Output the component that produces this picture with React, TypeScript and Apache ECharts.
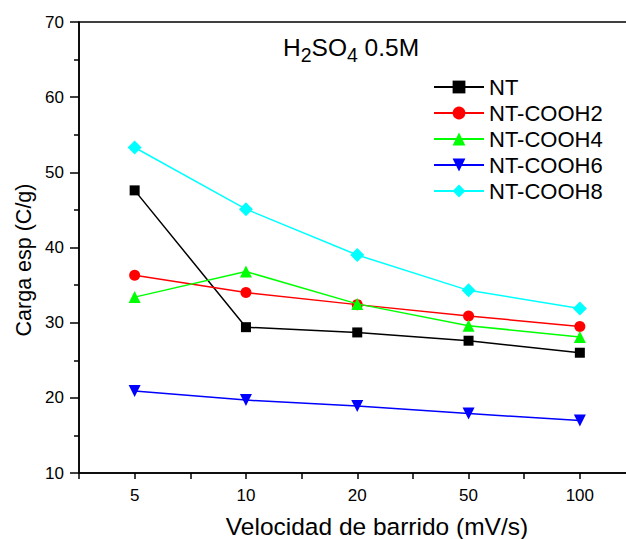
import React, { useEffect, useRef } from "react";
import * as echarts from "echarts";

const categories = ["5", "10", "20", "50", "100"];
const seriesNames = ["NT", "NT-COOH2", "NT-COOH4", "NT-COOH6", "NT-COOH8"];
const ntValues = [47.6, 29.4, 28.7, 27.6, 26.0];
const cooh2Values = [36.3, 34.0, 32.4, 30.9, 29.5];
const cooh4Values = [33.4, 36.8, 32.5, 29.6, 28.1];
const cooh6Values = [20.9, 19.7, 18.9, 17.9, 17.0];
const cooh8Values = [53.3, 45.1, 39.0, 34.3, 31.9];
const yTicks = [10, 20, 30, 40, 50, 60, 70];

const colors = ["#000000", "#ff0000", "#00ff00", "#0000ff", "#00ffff"];
const symbols = ["rect", "circle", "triangle", "triangle", "diamond"];
const symbolRotates = [0, 0, 0, 180, 0];
const symbolSizes = [10, 11, 12, 12, 14];

const FONT = "'Liberation Sans', Arial, Helvetica, sans-serif";

// title pieces: [text, isSubscript]
const titlePieces: [string, boolean][] = [
  ["H", false],
  ["2", true],
  ["SO", false],
  ["4", true],
  [" 0.5M", false],
];

function measure(text: string, size: number): number {
  const c = document.createElement("canvas").getContext("2d");
  if (!c) return text.length * size * 0.55;
  c.font = `${size}px ${FONT}`;
  return c.measureText(text).width;
}

export default function App() {
  const ref = useRef<HTMLDivElement>(null);
  useEffect(() => {
    document.body.style.margin = "0";
    if (!ref.current) return;
    const chart = echarts.init(ref.current, null, { renderer: "svg" });
    const allValues = [ntValues, cooh2Values, cooh4Values, cooh6Values, cooh8Values];
    const series = allValues.map((vals, k) => ({
      name: seriesNames[k],
      type: "line",
      data: vals.map((v, i) => [i + 1, v]),
      symbol: symbols[k],
      symbolSize: symbolSizes[k],
      symbolRotate: symbolRotates[k],
      lineStyle: { color: colors[k], width: 1.5 },
      itemStyle: { color: colors[k] },
      z: 2 + k,
    }));

    const mainSize = 24.5;
    const subSize = 19.5;
    let cx = 283;
    const titleY = 47;
    const titleEls = titlePieces.map(([t, sub]) => {
      const size = sub ? subSize : mainSize;
      const el = {
        type: "text",
        x: cx,
        y: sub ? titleY + 8 : titleY,
        style: {
          text: t,
          fontSize: size,
          fontFamily: FONT,
          fill: "#000",
          textAlign: "left",
          textVerticalAlign: "middle",
        },
      };
      cx += measure(t, size);
      return el;
    });

    chart.setOption({
      animation: false,
      backgroundColor: "#ffffff",
      textStyle: { fontFamily: FONT },
      grid: {
        left: 79,
        right: -9.5,
        top: 22,
        bottom: 66,
        outerBoundsMode: "none",
        show: true,
        borderColor: "#000",
        borderWidth: 1.5,
        backgroundColor: "transparent",
      },
      legend: {
        orient: "vertical",
        left: 428,
        top: 71,
        itemWidth: 50,
        itemHeight: 16,
        itemGap: 4,
        data: seriesNames,
        textStyle: { fontSize: 22, color: "#000", fontFamily: FONT },
      },
      xAxis: {
        type: "value",
        min: 0.5,
        max: 5.5,
        interval: 0.5,
        splitLine: { show: false },
        axisLine: { show: true, lineStyle: { color: "#000", width: 1.5 } },
        axisTick: { show: true, inside: false, length: 6, lineStyle: { color: "#000", width: 1.5 } },
        axisLabel: {
          fontSize: 17,
          color: "#000",
          margin: 14,
          fontFamily: FONT,
          formatter: (v: number) => (Number.isInteger(v) && v >= 1 && v <= categories.length ? categories[v - 1] : ""),
        },
      },
      yAxis: {
        type: "value",
        min: yTicks[0],
        max: yTicks[yTicks.length - 1],
        interval: 10,
        splitLine: { show: false },
        axisLine: { show: true, lineStyle: { color: "#000", width: 1.5 } },
        axisTick: { show: true, inside: false, length: 9, lineStyle: { color: "#000", width: 1.5 } },
        minorTick: { show: true, splitNumber: 2, length: 5, lineStyle: { color: "#000", width: 1.5 } },
        axisLabel: { fontSize: 17, color: "#000", margin: 15, fontFamily: FONT },
      },
      graphic: [
        ...titleEls,
        {
          type: "text",
          x: 377,
          y: 526,
          style: {
            text: "Velocidad de barrido (mV/s)",
            fontSize: 24.5,
            fontFamily: FONT,
            fill: "#000",
            textAlign: "center",
            textVerticalAlign: "middle",
          },
        },
        {
          type: "text",
          x: 24,
          y: 260,
          rotation: Math.PI / 2,
          style: {
            text: "Carga esp (C/g)",
            fontSize: 21.5,
            fontFamily: FONT,
            fill: "#000",
            textAlign: "center",
            textVerticalAlign: "middle",
          },
        },
      ],
      series,
    });
    return () => chart.dispose();
  }, []);
  return <div ref={ref} style={{ width: 626, height: 539 }} />;
}
